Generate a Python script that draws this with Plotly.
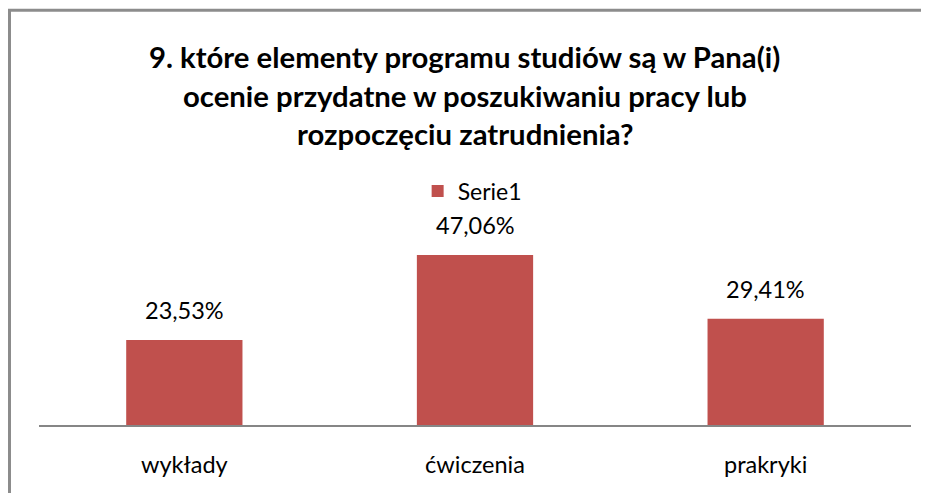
import plotly.graph_objects as go

categories = ["wykłady", "ćwiczenia", "prakryki"]
values = [23.53, 47.06, 29.41]
labels = ["23,53%", "47,06%", "29,41%"]
series_name = "Serie1"
title_lines = [
    "9. które elementy programu studiów są w Pana(i)",
    "ocenie przydatne w poszukiwaniu pracy lub",
    "rozpoczęciu zatrudnienia?",
]

FONT = "Lato"
BAR = "#C0504D"
OFF = 8  # page body margin
W, H = 929 - 2 * OFF, 501 - 2 * OFF
ML, MT = 39 - OFF, 244 - OFF
MR = W - (911 - OFF)
MB = H - (425 - OFF)
plot_w = W - ML - MR
plot_h = H - MT - MB


def px_x(p):
    return (p - OFF - ML) / plot_w


def px_y(p):
    return 1 + (MT - (p - OFF)) / plot_h


fig = go.Figure()
fig.add_trace(go.Bar(
    x=categories, y=values, name=series_name,
    marker=dict(color=BAR, line=dict(width=0)),
    width=0.4, showlegend=True,
))

annotations = []
for c, v, t in zip(categories, values, labels):
    annotations.append(dict(x=c, y=v, text=t, showarrow=False, yanchor="middle",
                            yshift=30, font=dict(family=FONT, size=23.5, color="#000")))

title_y = [57, 95, 133]
for line, py in zip(title_lines, title_y):
    annotations.append(dict(xref="paper", yref="paper",
                            x=px_x(464.5), y=px_y(py),
                            text="<b>" + line + "</b>", showarrow=False,
                            xanchor="center", yanchor="middle",
                            font=dict(family=FONT, size=29.3, color="#000")))

fig.update_layout(
    width=W, height=H,
    margin=dict(l=ML, r=MR, t=MT, b=MB, pad=0),
    paper_bgcolor="white", plot_bgcolor="white",
    annotations=annotations,
    showlegend=True,
    legend=dict(x=px_x(422) - 0.005, xanchor="left",
                y=px_y(191), yanchor="middle",
                font=dict(family=FONT, size=23, color="#000"),
                bgcolor="rgba(0,0,0,0)", borderwidth=0),
    xaxis=dict(showline=True, linecolor="#868686", linewidth=2, ticks="",
               tickfont=dict(family=FONT, size=23.5, color="#000"),
               ticklabelstandoff=18,
               showgrid=False, zeroline=False, fixedrange=True),
    yaxis=dict(range=[0, plot_h / 3.612], visible=False, showgrid=False,
               zeroline=False, fixedrange=True),
    shapes=[
        dict(type="line", xref="paper", yref="paper",
             x0=px_x(8), x1=px_x(W + OFF),
             y0=px_y(10.3), y1=px_y(10.3),
             line=dict(color="#8c8c8c", width=3)),
        dict(type="line", xref="paper", yref="paper",
             x0=px_x(9.5), x1=px_x(9.5),
             y0=px_y(9), y1=px_y(H + OFF),
             line=dict(color="#8c8c8c", width=3)),
    ],
)

fig.write_html("out.html")
